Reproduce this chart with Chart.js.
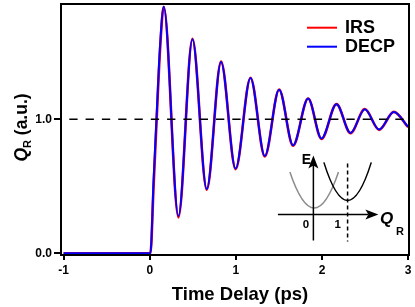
<!DOCTYPE html>
<html>
<head>
<meta charset="utf-8">
<script src="https://cdn.jsdelivr.net/npm/chart.js@4/dist/chart.umd.min.js"></script>
<style>
  html, body { margin: 0; padding: 0; background: #fff; }
</style>
</head>
<body>
<canvas id="qrChart" width="415" height="307"></canvas>
<script>
// Time delay (ps): baseline, the rise, then each peak / trough
const delays = [-1, 0.008, 0.045, 0.078, 0.12, 0.163, 0.333, 0.496, 0.662, 0.828, 0.997, 1.170,
                1.336, 1.502, 1.664, 1.839, 1.994, 2.168, 2.331, 2.497, 2.663, 2.834, 3.0];
// Q_R (a.u.)
const irsValues = [0, 0, 0.50, 0.96, 1.52, 1.84, 0.268, 1.600, 0.474, 1.430, 0.627, 1.310,
                   0.722, 1.222, 0.803, 1.155, 0.853, 1.113, 0.896, 1.076, 0.921, 1.055, 0.941];
const decpValues = [0, 0, 0.55, 1.0, 1.55, 1.84, 0.278, 1.597, 0.480, 1.428, 0.632, 1.308,
                    0.726, 1.221, 0.806, 1.154, 0.856, 1.112, 0.898, 1.075, 0.923, 1.054, 0.943];
const seriesNames = ['IRS', 'DECP'];
const xTicks = [-1, 0, 1, 2, 3];
const yTicks = [0, 1];
const yTickLabels = ['0.0', '1.0'];
const refLevel = 1.0;
const xRange = [-1.03, 3.01];
const yRange = [-0.013, 1.86];

const toPoints = (vals) => delays.map((t, i) => ({ x: t, y: vals[i] }));

const FONT = '"Liberation Sans", Arial, Helvetica, sans-serif';

// frame, legend, axis titles and the little energy diagram
const overlay = {
    id: 'overlay',
    afterDraw(chart) {
        const ctx = chart.ctx;
        const a = chart.chartArea;
        const xs = chart.scales.x, ys = chart.scales.y;
        ctx.save();

        // box round the plot
        ctx.strokeStyle = '#000';
        ctx.lineWidth = 2;
        ctx.strokeRect(a.left, a.top, a.right - a.left, a.bottom - a.top);

        // legend (IRS then DECP)
        const ds = chart.data.datasets;
        const legendRows = [ds[0], ds[1]];
        ctx.font = 'bold 18px ' + FONT;
        ctx.textBaseline = 'middle';
        ctx.textAlign = 'left';
        legendRows.forEach((d, i) => {
            const y = a.top + 23.7 + i * 19;
            ctx.strokeStyle = d.borderColor;
            ctx.lineWidth = 2;
            ctx.beginPath();
            ctx.moveTo(a.right - 102, y);
            ctx.lineTo(a.right - 72, y);
            ctx.stroke();
            ctx.fillStyle = '#000';
            ctx.fillText(d.label, a.right - 64, y);
        });

        // x title
        ctx.textAlign = 'center';
        ctx.textBaseline = 'alphabetic';
        ctx.font = 'bold 18.5px ' + FONT;
        ctx.fillText('Time Delay (ps)', (a.left + a.right) / 2 + 5, 300);

        // y title, rotated
        ctx.save();
        ctx.translate(27, (a.top + a.bottom) / 2 - 2);
        ctx.rotate(-Math.PI / 2);
        const fQ = 'italic bold 17.5px ' + FONT;
        const fR = 'bold 11px ' + FONT;
        const fRest = 'bold 17.5px ' + FONT;
        const rest = ' (a.u.)';
        ctx.font = fQ; const wQ = ctx.measureText('Q').width;
        ctx.font = fR; const wR = ctx.measureText('R').width;
        ctx.font = fRest; const wRest = ctx.measureText(rest).width;
        let px = -(wQ + wR + wRest) / 2;
        ctx.textAlign = 'left';
        ctx.font = fQ; ctx.fillText('Q', px, 0); px += wQ;
        ctx.font = fR; ctx.fillText('R', px, 4); px += wR;
        ctx.font = fRest; ctx.fillText(rest, px, 0);
        ctx.restore();

        // energy diagram inset
        const ox = xs.getPixelForValue(1.9);
        const oy = ys.getPixelForValue(0.29);
        ctx.lineWidth = 1.5;

        const parabola = (vx, vy, hw, h, color) => {
            ctx.strokeStyle = color;
            ctx.beginPath();
            ctx.moveTo(ox + vx - hw, oy + vy - h);
            ctx.quadraticCurveTo(ox + vx, oy + vy + h, ox + vx + hw, oy + vy - h);
            ctx.stroke();
        };
        parabola(0.8, -6.3, 24.3, 36, '#8c8c8c');
        parabola(34.2, -14, 23.7, 38, '#000');

        // dashed line at Q = 1
        ctx.strokeStyle = '#000';
        ctx.setLineDash([4, 3]);
        ctx.beginPath();
        ctx.moveTo(ox + 34.2, oy - 51);
        ctx.lineTo(ox + 34.2, oy + 27);
        ctx.stroke();
        ctx.setLineDash([]);

        // axes with arrow heads
        ctx.fillStyle = '#000';
        ctx.beginPath();
        ctx.moveTo(ox, oy + 26);
        ctx.lineTo(ox, oy - 50);
        ctx.moveTo(ox - 35.5, oy);
        ctx.lineTo(ox + 55, oy);
        ctx.stroke();
        ctx.beginPath();
        ctx.moveTo(ox, oy - 59);
        ctx.lineTo(ox - 5, oy - 46);
        ctx.lineTo(ox, oy - 49);
        ctx.lineTo(ox + 5, oy - 46);
        ctx.closePath();
        ctx.fill();
        ctx.beginPath();
        ctx.moveTo(ox + 65, oy);
        ctx.lineTo(ox + 52, oy - 5);
        ctx.lineTo(ox + 55, oy);
        ctx.lineTo(ox + 52, oy + 5);
        ctx.closePath();
        ctx.fill();

        ctx.textAlign = 'center';
        ctx.font = 'bold 14px ' + FONT;
        ctx.fillText('E', ox - 7, oy - 50.7);
        ctx.font = 'bold 11.5px ' + FONT;
        ctx.fillText('0', ox - 7.5, oy + 13.5);
        ctx.fillText('1', ox + 24.2, oy + 13.5);
        ctx.textAlign = 'left';
        ctx.font = 'italic bold 17px ' + FONT;
        ctx.fillText('Q', ox + 66.5, oy + 9.5);
        ctx.font = 'bold 11px ' + FONT;
        ctx.fillText('R', ox + 82.5, oy + 21);

        ctx.restore();
    }
};

const ctx = document.getElementById('qrChart').getContext('2d');
const myChart = new Chart(ctx, {
    type: 'line',
    data: {
        datasets: [
            {
                label: seriesNames[0],
                data: toPoints(irsValues),
                borderColor: '#ff0000',
                borderWidth: 2.6,
                pointRadius: 0,
                cubicInterpolationMode: 'monotone',
                order: 2
            },
            {
                label: seriesNames[1],
                data: toPoints(decpValues),
                borderColor: '#0000ff',
                borderWidth: 2,
                pointRadius: 0,
                cubicInterpolationMode: 'monotone',
                order: 1
            },
            {
                label: 'ref',
                data: [{ x: xRange[0], y: refLevel }, { x: xRange[1], y: refLevel }],
                borderColor: '#000',
                borderWidth: 1.5,
                borderDash: [8.3, 8],
                borderDashOffset: 8,
                pointRadius: 0,
                order: 0
            }
        ]
    },
    options: {
        responsive: false,
        animation: false,
        layout: { padding: { top: 4, right: 6, left: 0, bottom: 0 } },
        plugins: {
            legend: { display: false },
            tooltip: { enabled: false }
        },
        scales: {
            x: {
                type: 'linear',
                min: xRange[0],
                max: xRange[1],
                afterBuildTicks: (s) => { s.ticks = xTicks.map(v => ({ value: v })); },
                afterFit: (s) => { s.height = 52; s.paddingLeft = 0; s.paddingRight = 0; },
                ticks: {
                    callback: (v) => String(v),
                    color: '#000',
                    font: { family: FONT, size: 12, weight: 'bold' },
                    padding: 3,
                    maxRotation: 0,
                    autoSkip: false
                },
                grid: { drawOnChartArea: false, tickLength: 5, lineWidth: 2, color: '#000' },
                border: { display: false }
            },
            y: {
                min: yRange[0],
                max: yRange[1],
                afterBuildTicks: (s) => { s.ticks = yTicks.map(v => ({ value: v })); },
                afterFit: (s) => { s.width = 61; s.paddingTop = 0; s.paddingBottom = 0; },
                ticks: {
                    callback: (v) => yTickLabels[yTicks.indexOf(v)],
                    color: '#000',
                    font: { family: FONT, size: 12, weight: 'bold' },
                    padding: 2
                },
                grid: { drawOnChartArea: false, tickLength: 7, lineWidth: 2, color: '#000' },
                border: { display: false }
            }
        }
    },
    plugins: [overlay]
});
</script>
</body>
</html>
